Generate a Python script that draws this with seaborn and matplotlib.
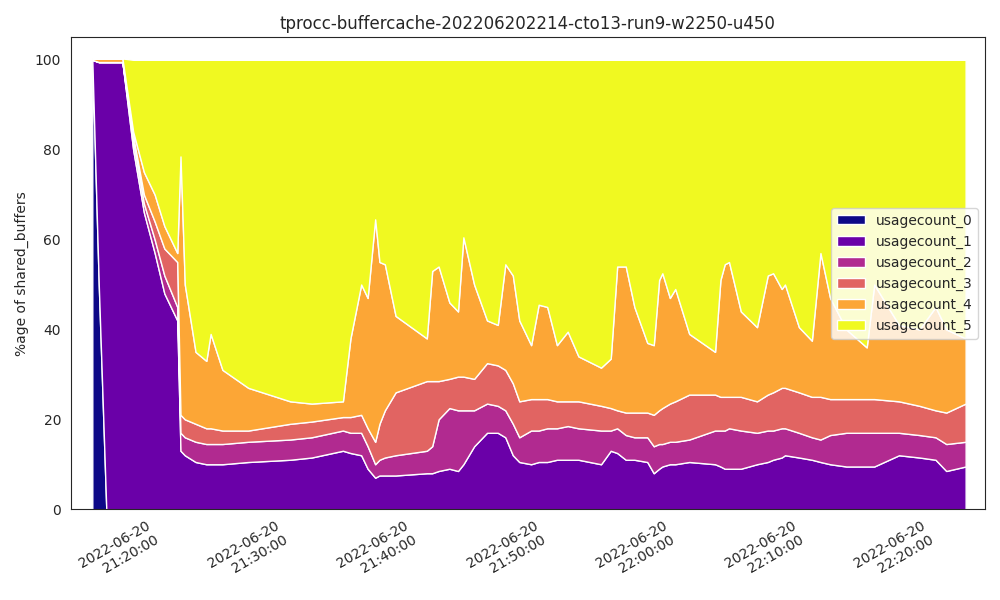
import numpy as np
import pandas as pd
import matplotlib
matplotlib.use("Agg")
import matplotlib.pyplot as plt
import matplotlib.dates as mdates
import seaborn as sns

sns.set_style("white")
plt.rcParams['font.family'] = ['DejaVu Sans']

# sample times (2022-06-20)
times = ["21:14:40", "21:15:10", "21:15:45", "21:17:00", "21:17:50", "21:18:40", "21:19:30",
         "21:20:15", "21:21:15", "21:21:30", "21:21:50", "21:22:40", "21:23:30", "21:23:50",
         "21:24:45", "21:26:45", "21:30:00", "21:31:40", "21:34:05", "21:34:40", "21:35:30",
         "21:36:00", "21:36:35", "21:36:55", "21:37:20", "21:38:10", "21:40:35", "21:41:00",
         "21:41:30", "21:42:20", "21:43:00", "21:43:25", "21:44:15", "21:45:15", "21:46:05",
         "21:46:40", "21:47:15", "21:47:45", "21:48:40", "21:49:15", "21:49:55", "21:50:40",
         "21:51:30", "21:52:20", "21:54:05", "21:54:50", "21:55:20", "21:56:00", "21:56:40",
         "21:57:40", "21:58:10", "21:58:35", "21:58:50", "21:59:25", "21:59:50", "22:00:55",
         "22:02:55", "22:03:20", "22:03:40", "22:04:00", "22:04:55", "22:06:10", "22:07:00",
         "22:07:25", "22:08:05", "22:08:20", "22:09:25", "22:10:25", "22:11:05", "22:11:50",
         "22:13:05", "22:14:40", "22:15:15", "22:17:10", "22:18:45", "22:20:00", "22:20:50",
         "22:22:20"]

# cumulative tops (% of shared_buffers) of usagecount_0 .. usagecount_4
top0 = [100, 50, 0, 0, 0, 0, 0, 0, 0, 0, 0, 0, 0, 0, 0, 0, 0, 0, 0, 0, 0, 0, 0, 0, 0, 0,
        0, 0, 0, 0, 0, 0, 0, 0, 0, 0, 0, 0, 0, 0, 0, 0, 0, 0, 0, 0, 0, 0, 0, 0, 0, 0, 0, 0,
        0, 0, 0, 0, 0, 0, 0, 0, 0, 0, 0, 0, 0, 0, 0, 0, 0, 0, 0, 0, 0, 0, 0, 0]
top1 = [100, 99.5, 99.5, 99.5, 80, 66, 57, 48, 42, 13, 12, 10.5, 10, 10, 10, 10.5, 11, 11.5,
        13, 12.5, 12, 9, 7, 7.5, 7.5, 7.5, 8, 8, 8.5, 9, 8.5, 10, 14, 17, 17, 16, 12, 10.5,
        10, 10.5, 10.5, 11, 11, 11, 10, 13, 12.5, 11, 11, 10.5, 8, 9, 9.5, 10, 10, 10.5,
        10, 9.5, 9, 9, 9, 10, 10.5, 11, 11.5, 12, 11.5, 11, 10.5, 10, 9.5, 9.5, 9.5, 12,
        11.5, 11, 8.5, 9.5]
top2 = [100, 99.5, 99.5, 99.5, 82, 68, 60, 52, 45, 17, 16, 15, 14.5, 14.5, 14.5, 15, 15.5,
        16, 17.5, 17, 17, 14, 10, 11, 11.5, 12, 13, 14, 20, 22.5, 22, 22, 22, 23.5, 23, 22,
        19, 16, 17.5, 17.5, 18, 18, 18.5, 18, 17.5, 17.5, 18, 16.5, 16, 16, 14, 14.5, 14.5,
        15, 15, 15.5, 17.5, 17.5, 17.5, 18, 17.5, 17, 17.5, 17.5, 18, 18, 17, 16, 15.5,
        16.5, 17, 17, 17, 17, 16.5, 16, 14.5, 15]
top3 = [100, 99.5, 99.5, 99.5, 83, 70, 64, 58, 55, 21, 20, 19, 18, 18, 17.5, 17.5, 19, 19.5,
        20.5, 20.5, 21, 18, 15, 19, 22, 26, 28.5, 28.5, 28.5, 29, 29.5, 29.5, 29, 32.5, 32,
        31, 28, 24, 24.5, 24.5, 24.5, 24, 24, 24, 23, 22.5, 22, 21.5, 21.5, 21.5, 21, 22,
        22.5, 23.5, 24, 25.5, 25.5, 25, 25, 25, 25, 24, 25.5, 26, 27, 27, 26, 25, 25, 24.5,
        24.5, 24.5, 24.5, 24, 23, 22, 21.5, 23.5]
top4 = [100.3, 100.3, 100.3, 100.3, 84, 75, 70, 63, 57, 78.5, 50, 35, 33, 39, 31, 27, 24,
        23.5, 24, 38, 50, 47, 64.5, 55, 54.5, 43, 38, 53, 54, 46, 44, 60.5, 50, 42, 41,
        54.5, 52, 42, 36.5, 45.5, 45, 36.5, 39.5, 34, 31.5, 33.5, 54, 54, 45, 37, 36.5, 51,
        52.5, 47, 49, 39, 35, 51, 54.5, 55, 44, 40.5, 52, 52.5, 49, 50, 40.5, 37.5, 57, 47,
        40, 36, 50, 41, 40, 45, 40, 38]
top5 = [100] * len(times)

labels = ["usagecount_0", "usagecount_1", "usagecount_2",
          "usagecount_3", "usagecount_4", "usagecount_5"]

x = pd.to_datetime(["2022-06-20 " + t for t in times])
tops = np.array([top0, top1, top2, top3, top4, top5], dtype=float)
tops[5] = np.maximum(tops[5], tops[4])
layers = np.diff(np.vstack([np.zeros(len(times)), tops]), axis=0)

colors = sns.color_palette("plasma", 6)
colors = ["#0d0887", "#6a00a8", "#b12a90", "#e16462", "#fca636", "#f0f921"]

fig, ax = plt.subplots(figsize=(10, 6), dpi=100)
ax.stackplot(x, layers, labels=labels, colors=colors)
ax.set_ylim(0, 105)
ax.set_xlim(pd.Timestamp("2022-06-20 21:13:00"), pd.Timestamp("2022-06-20 22:23:50"))
ax.xaxis.set_major_locator(mdates.MinuteLocator(byminute=[0, 10, 20, 30, 40, 50]))
ax.xaxis.set_major_formatter(mdates.DateFormatter("%Y-%m-%d\n%H:%M:%S"))
ax.set_ylabel("%age of shared_buffers")
ax.set_title("tprocc-buffercache-202206202214-cto13-run9-w2250-u450")
ax.legend(loc="center right")
fig.autofmt_xdate()
plt.tight_layout()
plt.savefig("out.png", dpi=100)
